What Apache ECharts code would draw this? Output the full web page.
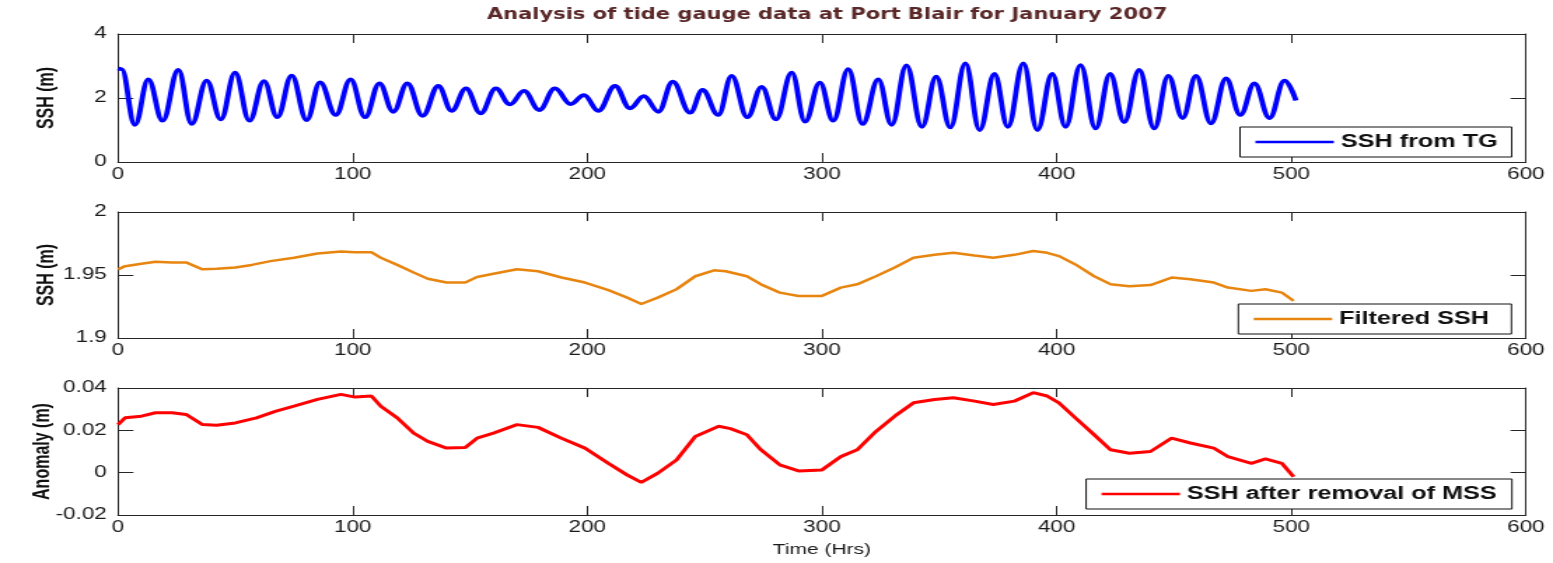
<!DOCTYPE html>
<html>
<head>
<meta charset="utf-8">
<script src="https://cdn.jsdelivr.net/npm/echarts@6/dist/echarts.min.js"></script>
<style>
  html, body { margin: 0; padding: 0; background: #fff; overflow: hidden; }
  /* the figure is laid out on a narrower canvas and widened horizontally */
  #chart { width: 1109px; height: 563px; transform: scaleX(1.40036); transform-origin: 0 0; }
</style>
</head>
<body>
<div id="chart"></div>
<script>
// ---- Panel 1: raw tide gauge sea surface height (turning points of the tide) ----
const tgHours = [0, 1.5, 7.2, 12.9, 19.0, 25.7, 31.4, 37.8, 43.8, 49.9, 56.0, 62.2, 67.9, 74.0, 80.4, 86.1, 92.8,
  99.1, 105.3, 111.4, 117.3, 123.3, 129.8, 136.5, 142.2, 148.3, 154.5, 161.0, 167.0,
  173.0, 179.5, 186.2, 192.9, 198.6, 204.7, 211.8, 218.2, 224.1, 230.3, 236.4, 243.8, 249.1, 255.8,
  261.5, 268.2, 274.3, 280.4, 287.1, 292.8, 299.1, 304.8, 311.2, 317.3, 324.0, 329.7, 336.0,
  342.6, 348.7, 354.7, 361.1, 367.2, 373.5, 379.2, 385.8, 391.8, 398.1, 403.8, 410.2, 416.6,
  422.8, 428.8, 435.2, 441.6, 447.6, 453.7, 459.4, 465.8, 472.2, 478.3, 484.3, 490.7, 497.1, 502.0];
const tgLevels = [2.92, 2.9, 1.16, 2.58, 1.29, 2.875, 1.19, 2.54, 1.33, 2.79, 1.29, 2.53, 1.40, 2.70, 1.31, 2.49, 1.47,
  2.58, 1.40, 2.46, 1.57, 2.46, 1.44, 2.375, 1.60, 2.30, 1.52, 2.30, 1.80,
  2.22, 1.625, 2.30, 1.81, 2.09, 1.60, 2.375, 1.68, 2.06, 1.57, 2.51, 1.54, 2.25, 1.47,
  2.69, 1.40, 2.35, 1.33, 2.79, 1.26, 2.48, 1.29, 2.90, 1.19, 2.58, 1.16, 3.02,
  1.10, 2.67, 1.08, 3.08, 1.00, 2.75, 1.10, 3.08, 1.00, 2.75, 1.10, 3.03, 1.05,
  2.75, 1.25, 2.875, 1.05, 2.69, 1.375, 2.69, 1.21, 2.61, 1.47, 2.46, 1.375, 2.54, 1.92];

// ---- Panel 2: low-pass filtered SSH ----
const filtHours = [0, 3, 10, 16, 23, 29, 36, 42, 50, 57, 65, 75, 85, 95, 101, 108, 112, 119, 126, 132, 140, 148,
  153, 160, 170, 179, 189, 199, 209, 217, 223, 230, 238, 246, 254, 259, 268, 274, 282, 290, 300, 308,
  315, 323, 331, 339, 348, 356, 365, 373, 382, 390, 396, 401, 408, 416, 423, 431, 440, 449, 457, 467,
  473, 483, 489, 496, 501];
const filtLevels = [1.9545, 1.957, 1.959, 1.9605, 1.960, 1.960, 1.9545, 1.955, 1.956, 1.958, 1.961, 1.9637, 1.967,
  1.9687, 1.968, 1.968, 1.9637, 1.958, 1.952, 1.947, 1.944, 1.944, 1.9484, 1.951, 1.9545, 1.953, 1.948,
  1.944, 1.938, 1.932, 1.927, 1.932, 1.9387, 1.949, 1.9537, 1.953, 1.949, 1.9426, 1.936, 1.9334, 1.9334,
  1.940, 1.9426, 1.949, 1.956, 1.9637, 1.966, 1.9676, 1.9655, 1.9637, 1.966, 1.969, 1.9676, 1.965, 1.9584,
  1.949, 1.9426, 1.941, 1.942, 1.948, 1.9466, 1.944, 1.940, 1.9374, 1.9387, 1.936, 1.9295];

// ---- Panel 3: anomaly after removing the mean sea surface ----
const anomHours = [0, 3, 10, 16, 23, 29, 36, 42, 50, 59, 67, 75, 85, 95, 101, 108, 112, 119, 126, 132, 140, 148,
  153, 160, 170, 179, 189, 199, 209, 217, 223, 230, 238, 246, 256, 261, 268, 274, 282, 290, 300, 308,
  315, 323, 331, 339, 348, 356, 365, 373, 382, 390, 396, 401, 408, 416, 423, 431, 440, 449, 457, 467,
  473, 483, 489, 496, 501];
const anomLevels = [0.0227, 0.0259, 0.0267, 0.0283, 0.0283, 0.0275, 0.0227, 0.0224, 0.0235, 0.0259, 0.029, 0.0314,
  0.0346, 0.037, 0.0357, 0.0362, 0.0314, 0.0259, 0.0187, 0.0148, 0.0116, 0.0119, 0.0163, 0.0187, 0.0227,
  0.0214, 0.0163, 0.0116, 0.0044, -0.0011, -0.0046, -0.0003, 0.006, 0.0171, 0.0219, 0.0208, 0.0179, 0.0108,
  0.0037, 0.0008, 0.0013, 0.0076, 0.0108, 0.0195, 0.0267, 0.033, 0.0346, 0.0354, 0.0338, 0.0322, 0.0338,
  0.0378, 0.0362, 0.033, 0.0259, 0.0179, 0.0108, 0.0092, 0.01, 0.0163, 0.014, 0.0116, 0.0076, 0.0044,
  0.0065, 0.0044, -0.0019];

const xTicks = { min: 0, max: 600, interval: 100 };
const panelTicks = [
  { min: 0, max: 4, interval: 2 },
  { min: 1.9, max: 2.0, interval: 0.05 },
  { min: -0.02, max: 0.04, interval: 0.02 }
];
const yNames = ['SSH (m)', 'SSH (m)', 'Anomaly (m)'];
const seriesNames = ['SSH from TG', 'Filtered SSH', 'SSH after removal of MSS'];
const seriesColors = ['#0000ff', '#e8850f', '#ff0000'];

const pairs = (xs, ys) => xs.map((x, i) => [x, ys[i]]);

const AX = '#262626';
const LABEL_FONT = 'Liberation Sans, Arial, sans-serif';
const gridBoxes = [
  { top: 34, height: 128 },
  { top: 212, height: 126 },
  { top: 388, height: 127 }
];
const legendBoxes = [
  { left: 885.5, top: 127, padding: [5, 10, 5, 11] },
  { left: 884.3, top: 304, padding: [5, 16, 5, 11] },
  { left: 775.6, top: 479, padding: [5, 11, 5, 11] }
];

const fmt = v => String(Number(v.toFixed(4)));

const grid = [], xAxis = [], yAxis = [], legend = [];
gridBoxes.forEach((g, i) => {
  grid.push({ left: 84.26, width: 1005.4, top: g.top, height: g.height, containLabel: false });
  const xBase = {
    type: 'value', gridIndex: i, min: xTicks.min, max: xTicks.max, interval: xTicks.interval,
    splitLine: { show: false },
    axisLine: { show: true, onZero: false, lineStyle: { color: AX, width: 1 } },
    axisTick: { show: true, inside: true, length: 9, lineStyle: { color: AX, width: 1 } }
  };
  xAxis.push(Object.assign({}, xBase, {
    position: 'bottom',
    axisLabel: { show: true, color: '#1a1a1a', fontSize: 16, fontFamily: LABEL_FONT, margin: 5,
      showMinLabel: true, showMaxLabel: true, hideOverlap: false, formatter: fmt },
    name: i === 2 ? 'Time (Hrs)' : '',
    nameLocation: 'middle', nameGap: 27,
    nameTextStyle: { color: '#1a1a1a', fontSize: 15, fontFamily: LABEL_FONT }
  }));
  xAxis.push(Object.assign({}, xBase, { position: 'top', axisLabel: { show: false } }));

  const t = panelTicks[i];
  const yBase = {
    type: 'value', gridIndex: i, min: t.min, max: t.max, interval: t.interval,
    splitLine: { show: false },
    axisLine: { show: true, onZero: false, lineStyle: { color: AX, width: 1 } },
    axisTick: { show: true, inside: true, length: 11, lineStyle: { color: AX, width: 1 } }
  };
  yAxis.push(Object.assign({}, yBase, {
    position: 'left',
    axisLabel: { show: true, color: '#1a1a1a', fontSize: 16, fontFamily: LABEL_FONT, margin: 8,
      showMinLabel: true, showMaxLabel: true, hideOverlap: false, formatter: fmt },
    name: yNames[i], nameLocation: 'middle', nameGap: i === 2 ? 46 : 43, nameRotate: 90,
    nameMoveOverlap: false,
    nameTextStyle: { color: '#111', fontSize: 16, fontWeight: 'bold', fontFamily: LABEL_FONT }
  }));
  yAxis.push(Object.assign({}, yBase, { position: 'right', axisLabel: { show: false } }));

  // legend sample drawn as a short solid stroke in the series colour
  const lb = legendBoxes[i];
  legend.push({
    data: [seriesNames[i]], left: lb.left, top: lb.top, orient: 'horizontal',
    padding: lb.padding, icon: 'rect', itemWidth: 56, itemHeight: 2.4, itemGap: 6,
    backgroundColor: '#fff', borderColor: '#111', borderWidth: 1, borderRadius: 0,
    selectedMode: false,
    textStyle: { color: '#111', fontSize: 18, fontWeight: 'bold', fontFamily: LABEL_FONT, lineHeight: 20 }
  });
});

const lineWidths = [3.8, 2.5, 3.0];
const seriesData = [pairs(tgHours, tgLevels), pairs(filtHours, filtLevels), pairs(anomHours, anomLevels)];
const series = seriesData.map((d, i) => ({
  name: seriesNames[i], type: 'line', xAxisIndex: 2 * i, yAxisIndex: 2 * i,
  data: d, symbol: 'none', showSymbol: false,
  smooth: i === 0 ? 0.4 : false, smoothMonotone: i === 0 ? 'x' : undefined,
  lineStyle: { color: seriesColors[i], width: lineWidths[i] },
  itemStyle: { color: seriesColors[i] },
  emphasis: { disabled: true }, silent: true
}));

const chart = echarts.init(document.getElementById('chart'), null, { renderer: 'canvas' });
chart.setOption({
  animation: false,
  backgroundColor: '#fff',
  title: {
    text: 'Analysis of tide gauge data at Port Blair for January 2007',
    left: 585.6, top: 3, textAlign: 'center',
    textStyle: { fontFamily: 'DejaVu Sans, sans-serif', fontWeight: 'bold', fontSize: 15, color: '#5a2828' }
  },
  grid, xAxis, yAxis, legend, series
});
</script>
</body>
</html>
